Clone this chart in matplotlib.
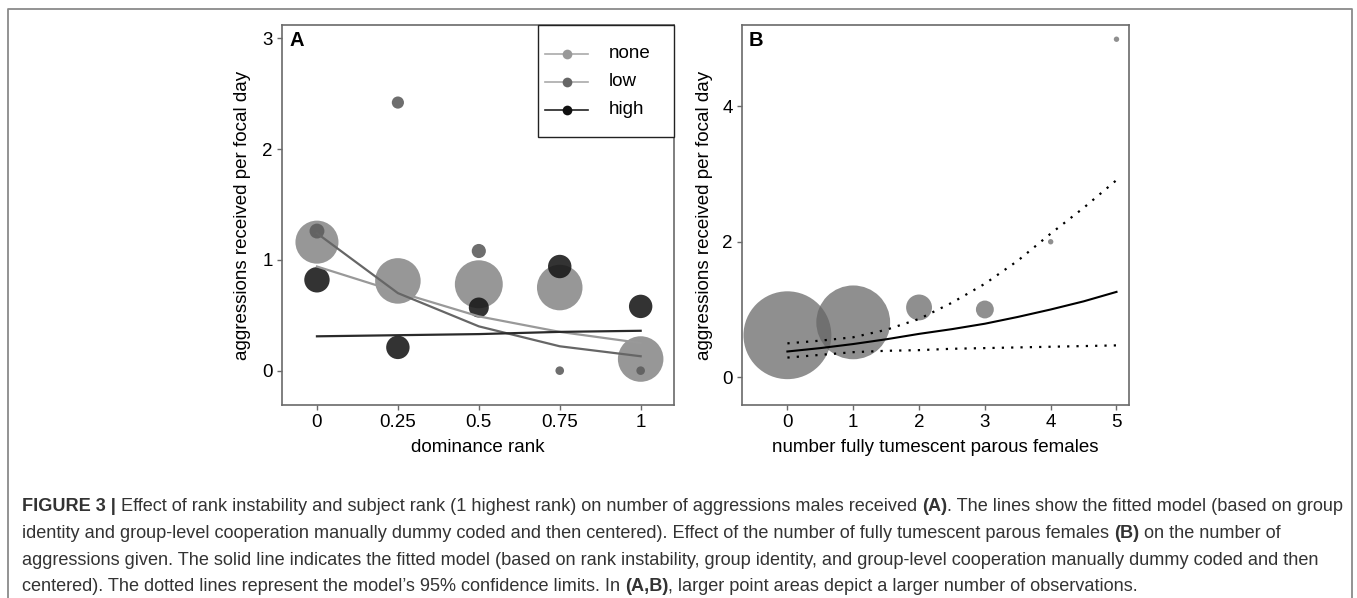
import numpy as np
import matplotlib
matplotlib.use("Agg")
import matplotlib.pyplot as plt
from matplotlib.lines import Line2D
from matplotlib.patches import Rectangle
from matplotlib import font_manager

plt.rcParams['font.family'] = ['Liberation Sans', 'DejaVu Sans']

# ---- panel A data: dominance rank vs aggressions received
rank = [0, 0.25, 0.5, 0.75, 1]
rank_ticks = ['0', '0.25', '0.5', '0.75', '1']

none_y = [1.16, 0.81, 0.78, 0.75, 0.105]
low_y = [1.26, 2.42, 1.08, 0.0, 0.0]
high_y = [0.82, 0.21, 0.57, 0.94, 0.58]

# relative number of observations (point area)
none_n = [25, 28, 31, 28, 28]
low_n = [3, 2, 2.7, 1, 1]
high_n = [8.7, 7.4, 5.4, 7.4, 7.4]

# fitted model lines
none_fit = [0.94, 0.71, 0.49, 0.35, 0.25]
low_fit = [1.24, 0.70, 0.40, 0.22, 0.13]
high_fit = [0.31, 0.32, 0.33, 0.35, 0.36]

groups = ['none', 'low', 'high']

# ---- panel B data: tumescent parous females
females = [0, 1, 2, 3, 4, 5]
females_y = [0.62, 0.81, 1.03, 1.00, 2.00, 4.99]
females_n = [265, 187, 23, 11, 1, 1]

fit_x = [0, 0.5, 1, 1.5, 2, 2.5, 3, 3.5, 4, 4.5, 5]
fit_mid = [0.38, 0.43, 0.49, 0.56, 0.64, 0.71, 0.79, 0.89, 1.00, 1.12, 1.26]
fit_up = [0.50, 0.54, 0.59, 0.70, 0.86, 1.10, 1.38, 1.72, 2.12, 2.50, 2.91]
fit_lo = [0.29, 0.33, 0.37, 0.39, 0.40, 0.42, 0.43, 0.44, 0.45, 0.46, 0.47]

W, H = 1357, 598
fig = plt.figure(figsize=(W / 100, H / 100), dpi=100)


def px(x, y):
    # pixel position (from top-left) -> figure fraction
    return x / W, 1 - y / H


# outer frame (open at bottom)
fig.add_artist(Line2D([8 / W, 8 / W, 1352 / W, 1352 / W], [0, 1 - 9 / H, 1 - 9 / H, 0],
                      transform=fig.transFigure, color='#8a8a8a', lw=1.3))

spine_col = '#6a6a6a'
fs = 13.5


def style(ax):
    for s in ax.spines.values():
        s.set_color(spine_col)
        s.set_linewidth(1.2)
    ax.tick_params(direction='out', length=3.5, width=1, color=spine_col,
                   labelsize=fs, pad=3)


# ---------------- panel A
axA = fig.add_axes([282 / W, 1 - 405 / H, (674 - 282) / W, (405 - 25) / H])
style(axA)
c_none, c_low, c_high = '#8c8c8c', '#5e5e5e', '#161616'
k = 38.4
axA.scatter(rank, none_y, s=np.array(none_n) * k, color=c_none, alpha=0.9, lw=0, zorder=2)
axA.scatter(rank, low_y, s=np.array(low_n) * k, color=c_low, alpha=0.9, lw=0, zorder=3)
axA.scatter(rank, high_y, s=np.array(high_n) * k, color=c_high, alpha=0.88, lw=0, zorder=4)
axA.plot(rank, none_fit, color='#999999', lw=1.6, zorder=5)
axA.plot(rank, low_fit, color='#666666', lw=1.6, zorder=5)
axA.plot(rank, high_fit, color='#2a2a2a', lw=1.6, zorder=5)
axA.set_xlim(-0.108, 1.103)
axA.set_ylim(-0.31, 3.12)
axA.set_xticks(rank)
axA.set_xticklabels(rank_ticks)
axA.set_yticks([0, 1, 2, 3])
axA.set_xlabel('dominance rank', fontsize=fs, labelpad=6)
axA.set_ylabel('aggressions received per focal day', fontsize=fs, labelpad=8)
axA.text(0.018, 0.985, 'A', transform=axA.transAxes, fontsize=14.5, fontweight='bold',
         va='top', ha='left')

# legend box drawn by hand (R-style padding)
x0, y0 = px(538, 137)
x1, y1 = px(674, 25)
fig.add_artist(Rectangle((x0, y0), x1 - x0, y1 - y0, transform=fig.transFigure,
                         fc='white', ec='#222222', lw=1.0, zorder=10))
leg_line = ['#aaaaaa', '#aaaaaa', '#222222']
leg_dot = ['#999999', '#666666', '#111111']
for i, g in enumerate(groups):
    yy = 54 + 28 * i
    fig.add_artist(Line2D([545 / W, 588 / W], [1 - yy / H] * 2, transform=fig.transFigure,
                          color=leg_line[i], lw=1.2, zorder=11))
    fig.add_artist(Line2D([567 / W], [1 - yy / H], transform=fig.transFigure, marker='o',
                          markersize=7, markerfacecolor=leg_dot[i], markeredgewidth=0,
                          lw=0, zorder=12))
    fig.text(609 / W, 1 - yy / H, g, fontsize=fs, va='center', ha='left', zorder=12)

# ---------------- panel B
axB = fig.add_axes([742 / W, 1 - 405 / H, (1129 - 742) / W, (405 - 25) / H])
style(axB)
axB.scatter(females, females_y, s=np.array(females_n) * 15.1, color='#646464',
            alpha=0.72, lw=0, zorder=2)
axB.plot(fit_x, fit_mid, color='black', lw=1.5, zorder=4)
axB.plot(fit_x, fit_up, color='black', lw=1.6, ls=(0, (1, 3.2)), zorder=4)
axB.plot(fit_x, fit_lo, color='black', lw=1.6, ls=(0, (1, 3.2)), zorder=4)
axB.set_xlim(-0.69, 5.19)
axB.set_ylim(-0.41, 5.2)
axB.set_xticks(females)
axB.set_yticks([0, 2, 4])
axB.set_xlabel('number fully tumescent parous females', fontsize=fs, labelpad=6)
axB.set_ylabel('aggressions received per focal day', fontsize=fs, labelpad=7)
axB.text(0.018, 0.985, 'B', transform=axB.transAxes, fontsize=14.5, fontweight='bold',
         va='top', ha='left')

# ---------------- caption
caption = [
    [('FIGURE 3 |', True),
     (' Effect of rank instability and subject rank (1 highest rank) on number of aggressions males received ', False),
     ('(A)', True),
     ('. The lines show the fitted model (based on group', False)],
    [('identity and group-level cooperation manually dummy coded and then centered). Effect of the number of fully tumescent parous females ', False),
     ('(B)', True),
     (' on the number of', False)],
    [('aggressions given. The solid line indicates the fitted model (based on rank instability, group identity, and group-level cooperation manually dummy coded and then', False)],
    [("centered). The dotted lines represent the model\u2019s 95% confidence limits. In ", False),
     ('(A,B)', True),
     (', larger point areas depict a larger number of observations.', False)],
]
names = {f.name for f in font_manager.fontManager.ttflist}
cap_family = ['Liberation Sans Narrow'] if 'Liberation Sans Narrow' in names else ['Liberation Sans']
baselines = [511, 538, 565, 591]
cap_texts = []
for line, yb in zip(caption, baselines):
    row = []
    for txt, bold in line:
        t = fig.text(22 / W, 1 - yb / H, txt, fontsize=12, family=cap_family,
                     fontweight='bold' if bold else 'normal', color='#333333',
                     va='baseline', ha='left')
        row.append(t)
    cap_texts.append(row)

# lay out caption pieces side by side and fit line 1 to its width
r = fig.canvas.get_renderer()
for _ in range(2):
    width1 = sum(t.get_window_extent(r).width for t in cap_texts[0])
    scale = (1342 - 22) / width1
    for row in cap_texts:
        for t in row:
            t.set_fontsize(t.get_fontsize() * scale)
    for row, yb in zip(cap_texts, baselines):
        x = 22
        for t in row:
            t.set_position((x / W, 1 - yb / H))
            x += t.get_window_extent(r).width

fig.savefig('out.png', dpi=100)
